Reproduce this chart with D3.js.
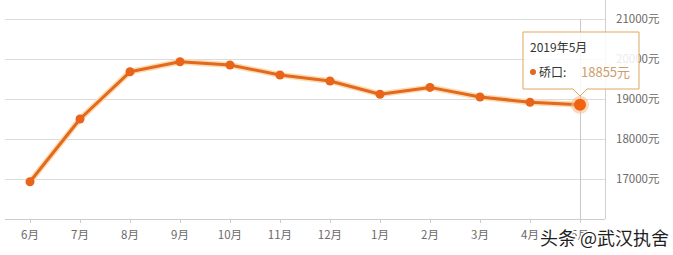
<!DOCTYPE html>
<html lang="zh">
<head>
  <meta charset="UTF-8">
  <title>硚口房价走势</title>
  <style>
    body {
      margin: 0;
      background: #fff;
      font-family: 'Noto Sans CJK SC', 'Noto Sans', sans-serif;
    }
    .grid line { stroke: #dcdcdc; }
    .tick-label { font-size: 11.5px; fill: #6a6a6a; }
    .watermark {
      font-size: 18px;
      fill: #1e1e1e;
      stroke: #fff;
      stroke-width: 3px;
      paint-order: stroke;
    }
  </style>
</head>
<body>
  <div id="chart"></div>

  <script src="https://d3js.org/d3.v7.min.js"></script>
  <script>
    // monthly average price, 硚口 district, 2018-06 .. 2019-05
    const months = ['6月', '7月', '8月', '9月', '10月', '11月', '12月', '1月', '2月', '3月', '4月', '5月'];
    const prices = [16930, 18500, 19680, 19930, 19850, 19600, 19450, 19120, 19290, 19050, 18920, 18855];
    const yTicks = [17000, 18000, 19000, 20000, 21000];
    const tipTitle = '2019年5月';
    const tipName = '硚口';

    const width = 673, height = 255;
    const plotLeft = 5, plotRight = 605, plotTop = 19, plotBottom = 219;

    const svg = d3.select('#chart').append('svg')
      .attr('width', width)
      .attr('height', height);

    const x = d3.scaleBand().domain(months).range([plotLeft, plotRight]).padding(0);
    const cx = d => x(d) + x.bandwidth() / 2;
    const y = d3.scaleLinear().domain([16000, 21000]).range([plotBottom, plotTop]);

    // horizontal grid
    svg.append('g').attr('class', 'grid')
      .selectAll('line')
      .data(yTicks)
      .enter().append('line')
      .attr('x1', plotLeft).attr('x2', plotRight)
      .attr('y1', d => y(d) + 0.5).attr('y2', d => y(d) + 0.5);

    // y labels on the right
    svg.selectAll('.ylab')
      .data(yTicks)
      .enter().append('text')
      .attr('class', 'tick-label')
      .attr('x', 616)
      .attr('y', d => y(d))
      .attr('dy', '0.35em')
      .text(d => d + '元');

    // bottom axis line + ticks
    svg.append('line')
      .attr('x1', plotLeft).attr('x2', plotRight)
      .attr('y1', plotBottom + 0.5).attr('y2', plotBottom + 0.5)
      .attr('stroke', '#ccc');
    svg.selectAll('.xtick')
      .data(months)
      .enter().append('line')
      .attr('x1', d => cx(d) + 0.5).attr('x2', d => cx(d) + 0.5)
      .attr('y1', plotBottom).attr('y2', plotBottom + 4)
      .attr('stroke', '#ccc');
    svg.selectAll('.xlab')
      .data(months)
      .enter().append('text')
      .attr('class', 'tick-label')
      .attr('x', d => cx(d))
      .attr('y', 239)
      .attr('text-anchor', 'middle')
      .text(d => d);

    // right border
    svg.append('line')
      .attr('x1', plotRight + 0.5).attr('x2', plotRight + 0.5)
      .attr('y1', 0).attr('y2', plotBottom)
      .attr('stroke', '#d0d0d0');

    // crosshair on last point
    const last = months.length - 1;
    svg.append('line')
      .attr('x1', cx(months[last]) + 0.5).attr('x2', cx(months[last]) + 0.5)
      .attr('y1', plotTop).attr('y2', plotBottom)
      .attr('stroke', '#c8c8c8');

    const pts = months.map((m, i) => [cx(m), y(prices[i])]);
    const line = d3.line();

    // soft glow under the line
    svg.append('path')
      .attr('d', line(pts))
      .attr('fill', 'none')
      .attr('stroke', '#fcdcb0')
      .attr('stroke-width', 6)
      .attr('stroke-linejoin', 'round');
    svg.append('path')
      .attr('d', line(pts))
      .attr('fill', 'none')
      .attr('stroke', '#e2691f')
      .attr('stroke-width', 3)
      .attr('stroke-linejoin', 'round');

    svg.selectAll('.pt')
      .data(prices.slice(0, last))
      .enter().append('circle')
      .attr('cx', (d, i) => cx(months[i]))
      .attr('cy', d => y(d))
      .attr('r', 4.5)
      .attr('fill', '#e8641a');

    // highlighted last point
    svg.append('circle')
      .attr('cx', cx(months[last])).attr('cy', y(prices[last]))
      .attr('r', 9).attr('fill', '#f6b98a').attr('opacity', 0.55);
    svg.append('circle')
      .attr('cx', cx(months[last])).attr('cy', y(prices[last]))
      .attr('r', 6).attr('fill', '#f0640f');

    // tooltip
    const tx = cx(months[last]);
    const tip = svg.append('g');
    const bx = 523, by = 32, bw = 116, bh = 57;
    tip.append('path')
      .attr('d', `M${bx},${by}H${bx + bw}V${by + bh}H${tx + 7}L${tx},${by + bh + 7}L${tx - 7},${by + bh}H${bx}Z`)
      .attr('fill', 'rgba(255,255,255,0.85)')
      .attr('stroke', '#e0a55e')
      .attr('stroke-width', 1);
    tip.append('text')
      .attr('x', bx + 7).attr('y', by + 20)
      .attr('font-size', 12).attr('fill', '#333')
      .text(tipTitle);
    tip.append('circle')
      .attr('cx', bx + 10).attr('cy', by + 40)
      .attr('r', 3).attr('fill', '#e2691f');
    tip.append('text')
      .attr('x', bx + 16).attr('y', by + 45)
      .attr('font-size', 12).attr('fill', '#333')
      .text(tipName + ':');
    tip.append('text')
      .attr('x', bx + 58).attr('y', by + 45)
      .attr('font-size', 13).attr('fill', '#cf9d6c')
      .text(prices[last] + '元');

    // watermark (sits over the last month label, as in the source image)
    svg.append('text')
      .attr('class', 'watermark')
      .attr('x', 540).attr('y', 245)
      .text('头条 @武汉执舍');
  </script>
</body>
</html>
